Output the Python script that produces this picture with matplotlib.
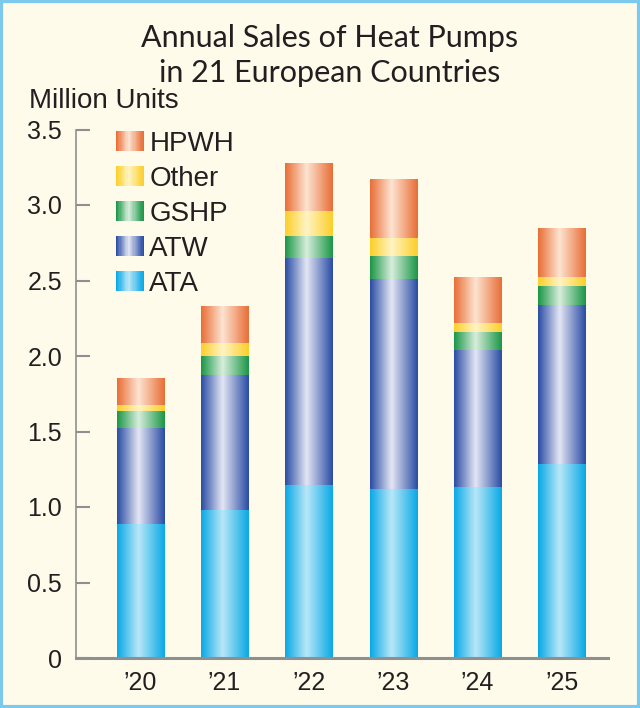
import numpy as np
import matplotlib
matplotlib.use("Agg")
import matplotlib.pyplot as plt
from matplotlib.colors import LinearSegmentedColormap
from matplotlib.legend_handler import HandlerBase
from matplotlib.patches import Rectangle, Patch

years = ["’20", "’21", "’22", "’23", "’24", "’25"]
series_names = ["ATA", "ATW", "GSHP", "Other", "HPWH"]
ata = [0.885, 0.98, 1.146, 1.12, 1.135, 1.285]
atw = [0.638, 0.894, 1.506, 1.39, 0.907, 1.053]
gshp = [0.115, 0.126, 0.145, 0.152, 0.119, 0.126]
other = [0.04, 0.084, 0.165, 0.118, 0.06, 0.061]
hpwh = [0.174, 0.243, 0.314, 0.386, 0.303, 0.321]

# edge colour, centre highlight
shades = {
    "ATA": ("#0aa9e6", "#b9e7f8"),
    "ATW": ("#2b4ea5", "#e4e6f4"),
    "GSHP": ("#1c9748", "#d8eedc"),
    "Other": ("#fccf2a", "#fff4c4"),
    "HPWH": ("#e96f37", "#fde4d2"),
}

bg = "#fefbeb"
text_col = "#231f20"
axis_col = "#8f8f8f"


def make_cmap(name):
    edge, mid = shades[name]
    return LinearSegmentedColormap.from_list(name, [(0, edge), (0.45, mid), (1, edge)])


class GradHandler(HandlerBase):
    def create_artists(self, legend, orig_handle, xdescent, ydescent, width, height, fontsize, trans):
        cmap = make_cmap(orig_handle.get_label())
        n = 24
        out = []
        for k in range(n):
            r = Rectangle((-xdescent + width * k / n, -ydescent), width / n * 1.05, height,
                          facecolor=cmap(k / (n - 1)), edgecolor="none", transform=trans)
            out.append(r)
        return out


fig = plt.figure(figsize=(6.4, 7.08), dpi=100, facecolor=bg)
ax = fig.add_axes([76 / 640, 50 / 708, 532 / 640, 528.5 / 708])
ax.set_facecolor(bg)

x = np.arange(len(years))
width = 0.56
grad = np.linspace(0, 1, 64).reshape(1, -1)
bottom = np.zeros(len(years))
data = {"ATA": ata, "ATW": atw, "GSHP": gshp, "Other": other, "HPWH": hpwh}
for name in series_names:
    vals = np.array(data[name])
    bars = ax.bar(x, vals, width, bottom=bottom, color="none", linewidth=0)
    cmap = make_cmap(name)
    for rect in bars:
        x0, y0 = rect.get_x(), rect.get_y()
        ax.imshow(grad, cmap=cmap, extent=(x0, x0 + rect.get_width(), y0, y0 + rect.get_height()),
                  aspect="auto", interpolation="bicubic", zorder=2)
    bottom += vals

ax.set_xlim(-0.762, 5.548)
ax.set_ylim(0, 3.5)
ax.set_xticks(x)
ax.set_xticklabels(years)
ax.set_yticks([0, 0.5, 1.0, 1.5, 2.0, 2.5, 3.0, 3.5])
ax.set_yticklabels(["0", "0.5", "1.0", "1.5", "2.0", "2.5", "3.0", "3.5"])
for s in ["top", "right"]:
    ax.spines[s].set_visible(False)
ax.spines["left"].set_color(axis_col)
ax.spines["left"].set_linewidth(1.2)
ax.spines["bottom"].set_color(axis_col)
ax.spines["bottom"].set_linewidth(2.2)
ax.tick_params(axis="y", direction="in", length=10, width=1.5, color=axis_col, pad=10,
               labelsize=18, labelcolor=text_col)
ax.tick_params(axis="x", length=0, pad=9, labelsize=18, labelcolor=text_col)
for lab in ax.get_xticklabels() + ax.get_yticklabels():
    lab.set_fontfamily("Liberation Sans")

handles = [Patch(label=n) for n in series_names[::-1]]
leg = fig.legend(handles=handles, loc="upper left", bbox_to_anchor=(116 / 640, 1 - 131 / 708),
                 frameon=False, handler_map={Patch: GradHandler()},
                 prop={"family": "Liberation Sans", "size": 20},
                 handlelength=1.0, handleheight=0.72, handletextpad=0.2, labelspacing=0.32,
                 borderpad=0, borderaxespad=0)
for t in leg.get_texts():
    t.set_color(text_col)

fig.text(330 / 640, 1 - 47 / 708, "Annual Sales of Heat Pumps", ha="center", va="baseline",
         fontsize=22, family="Lato", color=text_col)
fig.text(330 / 640, 1 - 82 / 708, "in 21 European Countries", ha="center", va="baseline",
         fontsize=22, family="Lato", color=text_col)
fig.text(29 / 640, 1 - 108 / 708, "Million Units", ha="left", va="baseline", fontsize=20,
         family="Liberation Sans", color=text_col)

fig.patches.append(Rectangle((0.002, 0.002), 0.996, 0.996, transform=fig.transFigure, fill=False,
                             edgecolor="#7cc9ee", linewidth=3))

fig.savefig("out.png", dpi=100, facecolor=bg)
